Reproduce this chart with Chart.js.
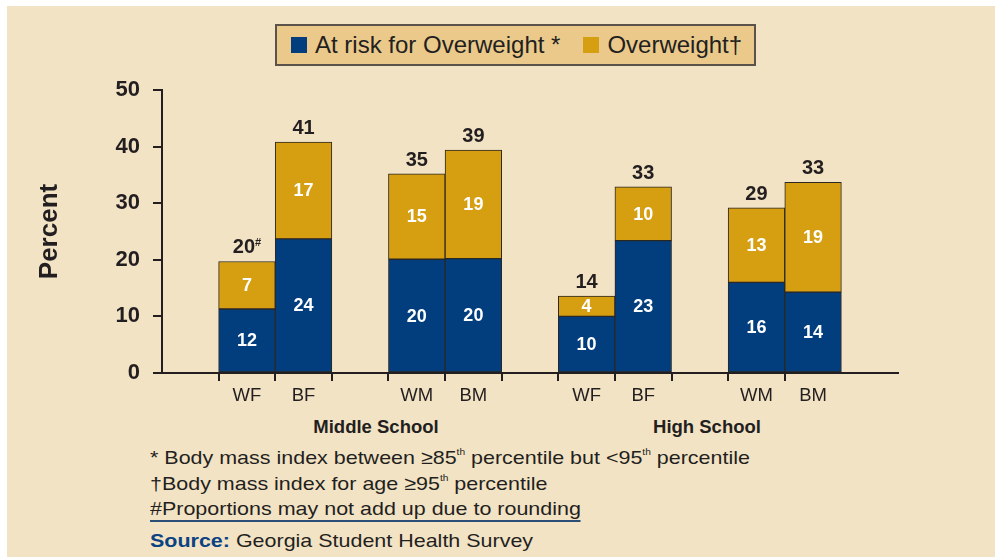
<!DOCTYPE html>
<html>
<head>
<meta charset="utf-8">
<script src="https://cdn.jsdelivr.net/npm/chart.js@4.4.1/dist/chart.umd.min.js"></script>
<style>
  body { margin: 0; background: #fff; font-family: "Liberation Sans", Arial, sans-serif; color: #231f20; }
  #panel { position: absolute; left: 7px; top: 6px; right: 0; bottom: 0; background: #f3e3c5; }
  #legend { position: absolute; left: 275px; top: 24px; width: 477px; height: 38px; border: 2px solid #5b5249;
            background: #eac98b; font-size: 24px; display: flex; align-items: center; white-space: nowrap; }
  .sw { display: inline-block; width: 16px; height: 16px; margin-right: 8px; }
  .note { position: absolute; left: 150px; font-size: 19px; line-height: 22px; white-space: nowrap;
          transform: scaleX(1.13); transform-origin: 0 0; }
  .note sup { font-size: 9px; vertical-align: 9px; line-height: 0; }
  .group { position: absolute; top: 416px; font-size: 18.5px; font-weight: bold; transform: translateX(-50%); white-space: nowrap; }
  #wrap { position: absolute; left: 0; top: 0; width: 995px; height: 557px; }
</style>
</head>
<body>
<div id="panel"></div>
<div id="legend">
  <span class="sw" style="margin-left:14px;background:#023e7d"></span><span>At risk for Overweight *</span>
  <span class="sw" style="margin-left:23px;background:#d69f12"></span><span>Overweight†</span>
</div>
<div class="group" style="left:376px">Middle School</div>
<div class="group" style="left:707px">High School</div>
<div class="note" style="top:447px">* Body mass index between ≥85<sup>th</sup> percentile but &lt;95<sup>th</sup> percentile</div>
<div class="note" style="top:473px">†Body mass index for age ≥95<sup>th</sup> percentile</div>
<div class="note" style="top:498px"><span style="border-bottom:2px solid #2c4f78;padding-bottom:1px">#Proportions may not add up due to rounding</span></div>
<div class="note" style="top:530px"><b style="color:#0b4382">Source:</b> Georgia Student Health Survey</div>
<div id="wrap"><canvas id="chart"></canvas></div>
<script>
// blank slots keep the gaps between the pairs of bars
const categories = ['', 'WF', 'BF', '', 'WM', 'BM', '', 'WF', 'BF', '', 'WM', 'BM', ''];
const atRisk = [null, 11.3, 23.7, null, 20.1, 20.2, null, 10.0, 23.4, null, 16.0, 14.3, null];
const overweight = [null, 8.4, 17.1, null, 15.1, 19.2, null, 3.6, 9.5, null, 13.2, 19.4, null];
const atRiskLabels = ['', '12', '24', '', '20', '20', '', '10', '23', '', '16', '14', ''];
const overweightLabels = ['', '7', '17', '', '15', '19', '', '4', '10', '', '13', '19', ''];
const totalLabels = ['', '20', '41', '', '35', '39', '', '14', '33', '', '29', '33', ''];
const totalMarks = ['', '#', '', '', '', '', '', '', '', '', '', '', ''];
const tickSlots = [1, 2, 3, 4, 5, 6, 7, 8, 9, 10, 11];

const dark = '#231f20';

const barLabels = {
  id: 'barLabels',
  afterDatasetsDraw(chart) {
    const ctx = chart.ctx;
    const low = chart.getDatasetMeta(0).data;
    const high = chart.getDatasetMeta(1).data;
    ctx.save();
    ctx.textAlign = 'center';
    ctx.textBaseline = 'middle';
    ctx.fillStyle = '#fff';
    ctx.font = 'bold 18px "Liberation Sans", Arial';
    low.forEach((bar, i) => {
      if (!atRiskLabels[i]) return;
      ctx.fillText(atRiskLabels[i], bar.x, (bar.y + bar.base) / 2 + 1);
      const top = high[i];
      ctx.fillText(overweightLabels[i], top.x, (top.y + top.base) / 2 + 1);
    });
    ctx.fillStyle = dark;
    ctx.textBaseline = 'alphabetic';
    high.forEach((bar, i) => {
      if (!totalLabels[i]) return;
      ctx.font = 'bold 20px "Liberation Sans", Arial';
      if (totalMarks[i]) {
        const w = ctx.measureText(totalLabels[i]).width;
        ctx.textAlign = 'left';
        ctx.fillText(totalLabels[i], bar.x - w / 2 - 3, bar.y - 8);
        ctx.font = 'bold 11px "Liberation Sans", Arial';
        ctx.fillText(totalMarks[i], bar.x + w / 2 - 3, bar.y - 15);
        ctx.textAlign = 'center';
      } else {
        ctx.fillText(totalLabels[i], bar.x, bar.y - 8);
      }
    });
    ctx.restore();
  }
};

new Chart(document.getElementById('chart'), {
  type: 'bar',
  data: {
    labels: categories,
    datasets: [
      { label: 'At risk for Overweight *', data: atRisk, backgroundColor: '#023e7d' },
      { label: 'Overweight†', data: overweight, backgroundColor: '#d69f12' }
    ]
  },
  options: {
    responsive: true,
    maintainAspectRatio: false,
    animation: false,
    layout: { padding: { top: 90, right: 97, left: 0, bottom: 0 } },
    datasets: {
      bar: { barPercentage: 1, categoryPercentage: 1, borderWidth: 1, borderColor: '#2b2724', borderSkipped: false }
    },
    plugins: { legend: { display: false }, tooltip: { enabled: false } },
    scales: {
      x: {
        stacked: true,
        afterFit: s => { s.height = 184; },
        grid: {
          offset: true,
          drawOnChartArea: false,
          tickLength: 8,
          lineWidth: 2,
          color: c => tickSlots.includes(c.index) ? dark : 'rgba(0,0,0,0)'
        },
        border: { color: dark, width: 2 },
        ticks: { color: dark, padding: 4, font: { size: 18.5, family: '"Liberation Sans", Arial' } }
      },
      y: {
        stacked: true,
        min: 0,
        max: 50,
        afterFit: s => { s.width = 162; },
        grid: { drawOnChartArea: false, tickLength: 9, lineWidth: 2, color: dark },
        border: { color: dark, width: 2 },
        ticks: { stepSize: 10, color: dark, padding: 13, font: { size: 22, weight: 'bold', family: '"Liberation Sans", Arial' } },
        title: { display: true, text: 'Percent', color: dark, padding: { top: 34 }, font: { size: 26, weight: 'bold', family: '"Liberation Sans", Arial' } }
      }
    }
  },
  plugins: [barLabels]
});
</script>
</body>
</html>
